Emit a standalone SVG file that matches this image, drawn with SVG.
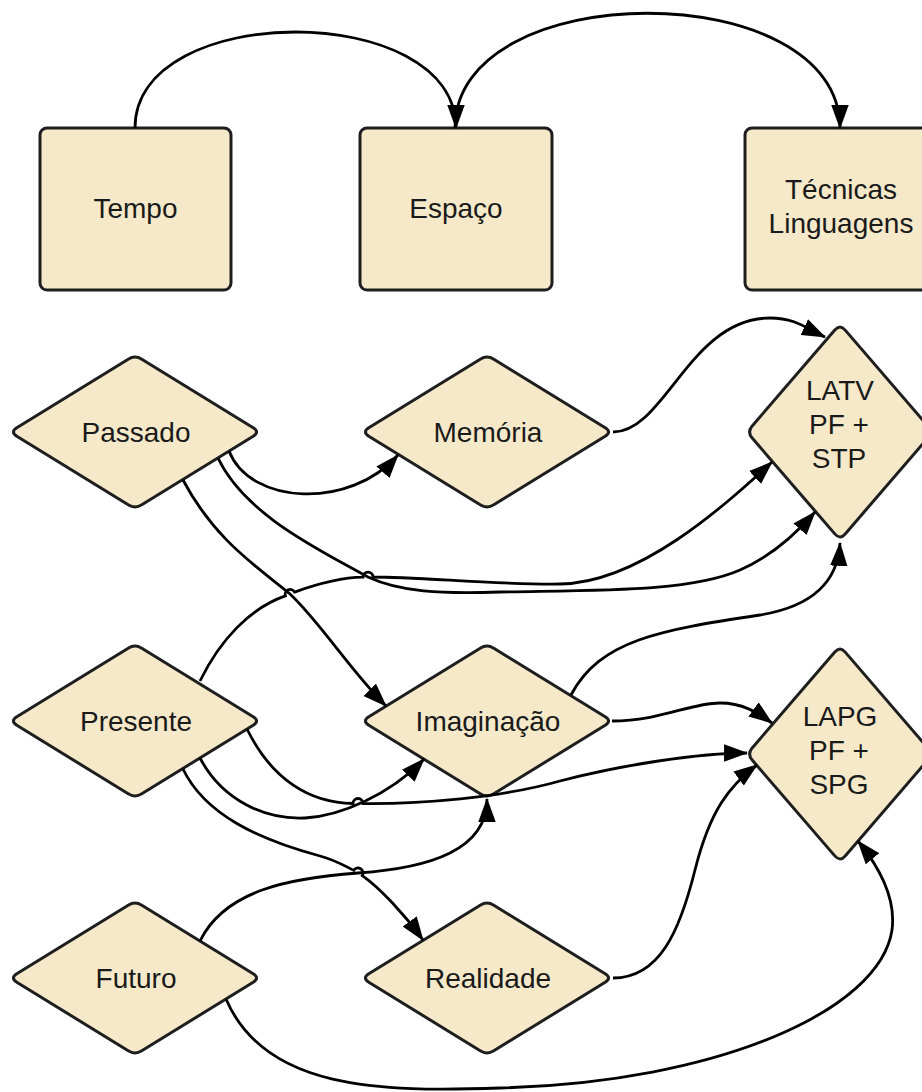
<svg xmlns="http://www.w3.org/2000/svg" xmlns:xlink="http://www.w3.org/1999/xlink" width="922" height="1092" viewBox="0 0 922 1092">
<style>
.shape{fill:#f5e9c9;stroke:#1e1e1e;stroke-width:3;stroke-linejoin:round}
.lbl{font-family:"Liberation Sans",Arial,sans-serif;font-size:28px;fill:#1a1a1a;text-anchor:middle}
.conn path{fill:none;stroke:#000;stroke-width:2.8;marker-end:url(#arr)}
</style>
<defs>
<marker id="arr" markerUnits="userSpaceOnUse" markerWidth="24" markerHeight="18" viewBox="0 0 22 16" refX="21" refY="8" orient="auto">
<path d="M0,0 L22,8 L0,16 z" fill="#000"/>
</marker>
<path id="dia" d="M-118.2,-4.2 L-6.8,-72.8 Q0,-77 6.8,-72.8 L118.2,-4.2 Q125,0 118.2,4.2 L6.8,72.8 Q0,77 -6.8,72.8 L-118.2,4.2 Q-125,0 -118.2,-4.2 Z"/>
<path id="dia2" d="M-87.8,-6.1 L-5.2,-101.9 Q0,-108 5.2,-101.9 L87.8,-6.1 Q93,0 87.8,6.1 L5.2,101.9 Q0,108 -5.2,101.9 L-87.8,6.1 Q-93,0 -87.8,-6.1 Z"/>
</defs>
<rect width="922" height="1092" fill="#fff"/>

<g id="tempo"><rect class="shape" x="40" y="128" width="191" height="162" rx="7"/><text class="lbl" x="135.5" y="218">Tempo</text></g>
<g id="espaco"><rect class="shape" x="360" y="128" width="192" height="162" rx="7"/><text class="lbl" x="456" y="218">Espaço</text></g>
<g id="tecnicas"><rect class="shape" x="745" y="128" width="192" height="162" rx="7"/><text class="lbl" x="841" y="199">Técnicas</text><text class="lbl" x="841" y="233">Linguagens</text></g>

<g id="passado"><use href="#dia" class="shape" x="135" y="432"/><text class="lbl" x="136" y="442">Passado</text></g>
<g id="memoria"><use href="#dia" class="shape" x="487" y="432"/><text class="lbl" x="488" y="442">Memória</text></g>
<g id="latv"><use href="#dia2" class="shape" x="840" y="432"/><text class="lbl" x="840" y="400">LATV</text><text class="lbl" x="839" y="434">PF +</text><text class="lbl" x="839" y="468">STP</text></g>

<g id="presente"><use href="#dia" class="shape" x="135" y="721"/><text class="lbl" x="136" y="731">Presente</text></g>
<g id="imaginacao"><use href="#dia" class="shape" x="487" y="721"/><text class="lbl" x="488" y="731">Imaginação</text></g>
<g id="lapg"><use href="#dia2" class="shape" x="840" y="754"/><text class="lbl" x="840" y="726">LAPG</text><text class="lbl" x="839" y="760">PF +</text><text class="lbl" x="839" y="794">SPG</text></g>

<g id="futuro"><use href="#dia" class="shape" x="135" y="978"/><text class="lbl" x="136" y="988">Futuro</text></g>
<g id="realidade"><use href="#dia" class="shape" x="487" y="978"/><text class="lbl" x="488" y="988">Realidade</text></g>

<g id="connectors" class="conn">
<path d="M135,128 C135,0 456,0 456,128"/>
<path d="M455,128 C455,-25 840,-25 840,128"/>
<path d="M229,451 C250,505 350,510 398,455"/>
<path d="M613,432 C665,432 690,318 770,318 C795,318 806,328 825,337"/>
<path d="M218,458 C245,515 320,550 368,577 C400,592 440,594 500,592 C600,590 690,592 740,570 C770,557 795,535 815,512"/>
<path d="M200,681 C220,640 250,608 285.4,595.9 A5,5 0 0 1 294.6,592.1 C320,583 345,577.5 363,577.2 A5,5 0 0 1 373,577 C420,577 500,585 560,584 C640,583 725,505 772,462"/>
<path d="M183,480 C215,540 255,565 290,594 C320,622 350,670 386,706"/>
<path d="M571,695 C600,640 660,630 760,615 C815,606 838,580 840,543"/>
<path d="M612,721 C660,721 690,703 720,703 C742,703 757,712 772,723"/>
<path d="M247,729 C272,780 310,803 353,803.5 A5,5 0 0 1 363,803.5 C420,804 500,798 560,781 C620,765 700,753 747,753"/>
<path d="M200,758 C222,800 265,820 305,818 C340,816 390,795 424,759"/>
<path d="M183,769 C205,815 260,840 320,856 C335,860 345,866 353.75,870.35 A5,5 0 0 1 362.25,875.65 C380,888 405,915 423,940"/>
<path d="M200,941 C225,890 290,878 358,873 C430,868 487,850 487,799"/>
<path d="M226,999 C265,1090 380,1092 500,1088 C720,1082 880,1010 892,930 C896,900 880,868 858,841"/>
<path d="M613,978 C660,978 680,930 695,870 C710,810 730,785 757,765"/>
</g>
</svg>
